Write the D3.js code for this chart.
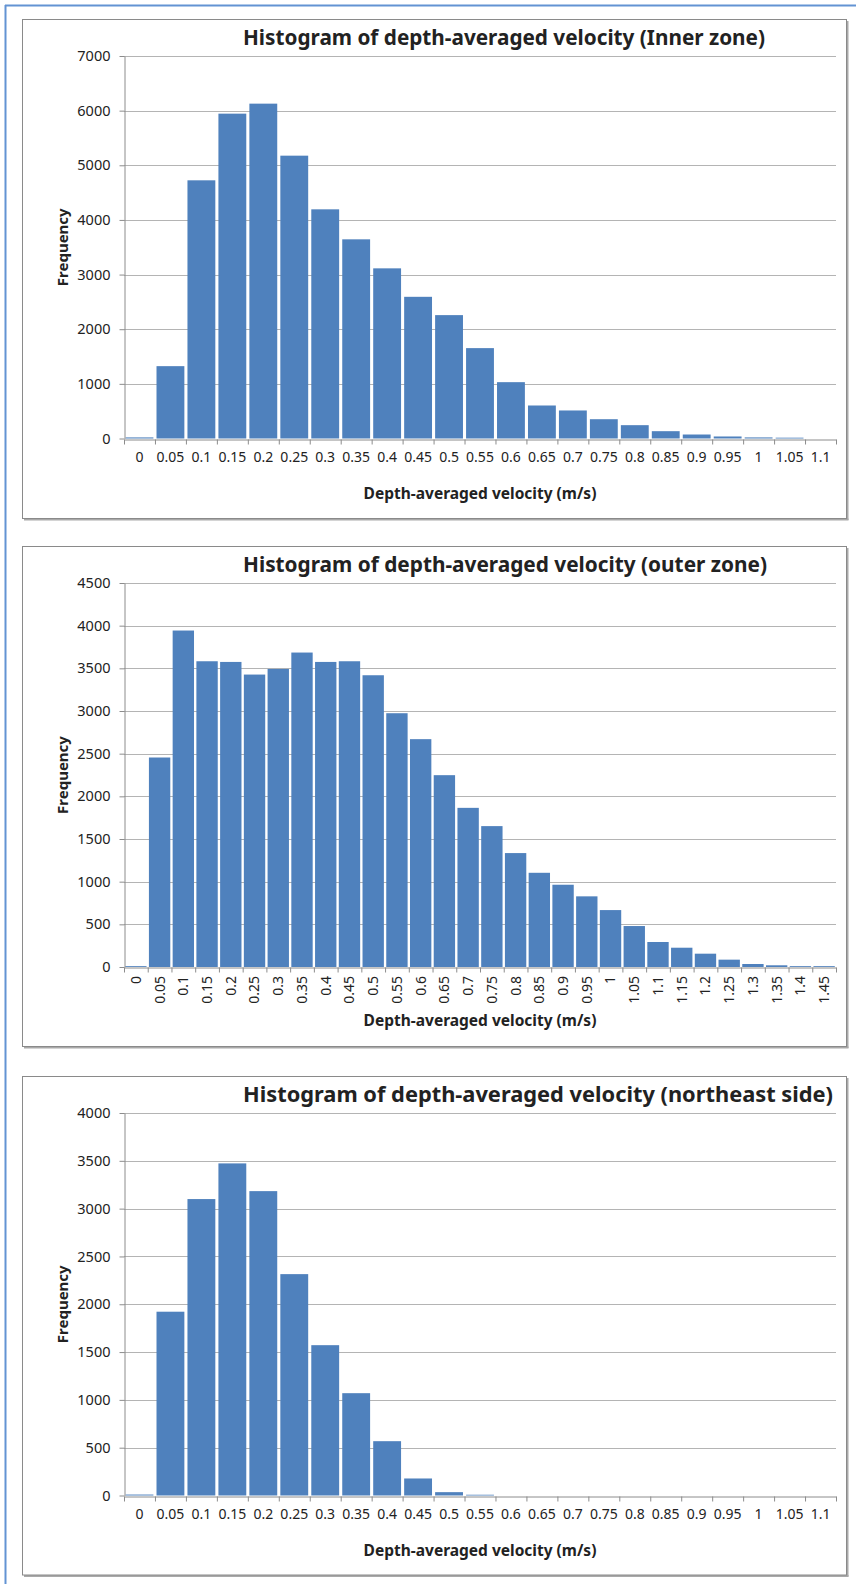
<!DOCTYPE html>
<html>
<head>
<meta charset="utf-8">
<script src="https://cdn.jsdelivr.net/npm/d3@7/dist/d3.min.js"></script>
<style>
body { margin: 0; background: #fff; }
svg { display: block; }
text { font-family: "Noto Sans", sans-serif; fill: #222; }
</style>
</head>
<body>
<div id="figure-div"></div>
<script>
// categories (bin labels)
var catsShort = ["0", "0.05", "0.1", "0.15", "0.2", "0.25", "0.3", "0.35", "0.4", "0.45", "0.5", "0.55",
	"0.6", "0.65", "0.7", "0.75", "0.8", "0.85", "0.9", "0.95", "1", "1.05", "1.1"];
var catsLong = ["0", "0.05", "0.1", "0.15", "0.2", "0.25", "0.3", "0.35", "0.4", "0.45", "0.5", "0.55",
	"0.6", "0.65", "0.7", "0.75", "0.8", "0.85", "0.9", "0.95", "1", "1.05", "1.1", "1.15", "1.2",
	"1.25", "1.3", "1.35", "1.4", "1.45"];

// frequencies
var innerValues = [20, 1324, 4725, 5945, 6128, 5176, 4194, 3645, 3114, 2593, 2258, 1654,
	1031, 604, 513, 353, 244, 134, 73, 37, 20, 15, 0];
var outerValues = [10, 2455, 3943, 3583, 3575, 3427, 3493, 3685, 3575, 3583, 3419, 2974,
	2670, 2248, 1865, 1651, 1335, 1104, 964, 828, 667, 480, 293, 226, 156, 86, 35, 20, 10, 10];
var northeastValues = [10, 1922, 3100, 3473, 3183, 2315, 1572, 1070, 568, 178, 35, 8,
	0, 0, 0, 0, 0, 0, 0, 0, 0, 0, 0];

// y tick values
var innerTicks = [0, 1000, 2000, 3000, 4000, 5000, 6000, 7000];
var outerTicks = [0, 500, 1000, 1500, 2000, 2500, 3000, 3500, 4000, 4500];
var northeastTicks = [0, 500, 1000, 1500, 2000, 2500, 3000, 3500, 4000];

var titles = ["Histogram of depth-averaged velocity (Inner zone)",
	"Histogram of depth-averaged velocity (outer zone)",
	"Histogram of depth-averaged velocity (northeast side)"];
var xTitle = "Depth-averaged velocity (m/s)";
var yTitle = "Frequency";

var W = 856, H = 1584;
var barColor = "#4f81bd";
var gridColor = "#b4b4b4";
var axisColor = "#8c8c8c";

var svg = d3.select("#figure-div").append("svg")
	.attr("width", W)
	.attr("height", H);

// outer blue frame
svg.append("line").attr("x1", 5.5).attr("x2", 5.5).attr("y1", 5).attr("y2", H)
	.attr("stroke", "#6393d3").attr("stroke-width", 2);
svg.append("line").attr("x1", 5).attr("x2", W).attr("y1", 5.5).attr("y2", 5.5)
	.attr("stroke", "#6393d3").attr("stroke-width", 2);

function drawChart(top, boxH, cats, values, ticks, title, titleW, rotated) {
	var left = 22, right = 846;
	var plotL = 124, plotR = 836;
	var plotT = top + 37, plotB = top + (rotated ? 421 : 419.5);

	var g = svg.append("g");

	// chart box with shadow
	g.append("line").attr("x1", right + 1.5).attr("x2", right + 1.5)
		.attr("y1", top + 2).attr("y2", top + boxH + 2)
		.attr("stroke", "#a9a9a9").attr("stroke-width", 2);
	g.append("line").attr("x1", left + 2).attr("x2", right + 2.5)
		.attr("y1", top + boxH + 1.5).attr("y2", top + boxH + 1.5)
		.attr("stroke", "#a9a9a9").attr("stroke-width", 2);
	g.append("rect")
		.attr("x", left + 0.5).attr("y", top + 0.5)
		.attr("width", right - left).attr("height", boxH)
		.attr("fill", "#fff").attr("stroke", "#8a8a8a");

	var x = d3.scaleBand()
		.domain(cats)
		.range([plotL, plotR])
		.paddingInner(0.1)
		.paddingOuter(0.05);
	var xEdge = d3.scaleLinear()
		.domain([0, cats.length])
		.range([plotL, plotR]);
	var y = d3.scaleLinear()
		.domain([0, d3.max(ticks)])
		.range([plotB, plotT]);

	// gridlines
	g.append("g").selectAll("line")
		.data(ticks.slice(1))
		.enter().append("line")
		.attr("x1", plotL).attr("x2", plotR)
		.attr("y1", function(d) { return Math.round(y(d)) + 0.5; })
		.attr("y2", function(d) { return Math.round(y(d)) + 0.5; })
		.attr("stroke", gridColor);

	// bars
	g.append("g").selectAll("rect")
		.data(values)
		.enter().append("rect")
		.attr("x", function(d, i) { return x(cats[i]); })
		.attr("width", x.bandwidth())
		.attr("y", function(d) { return y(d); })
		.attr("height", function(d) { return plotB - y(d); })
		.attr("fill", barColor);

	// y axis
	var yAxis = g.append("g")
		.attr("transform", "translate(" + (plotL + 0.5) + ",0)")
		.call(d3.axisLeft(y).tickValues(ticks).tickFormat(d3.format("d"))
			.tickSize(5).tickPadding(9).tickSizeOuter(0));
	yAxis.select(".domain").attr("stroke", axisColor);
	yAxis.selectAll(".tick line").attr("stroke", axisColor);
	yAxis.selectAll("text").style("font-size", "14.5px").attr("fill", "#222").style("font-family", "Noto Sans");

	// x axis: tick marks at bin edges
	var xTickAxis = g.append("g")
		.attr("transform", "translate(0," + (Math.round(plotB) + 0.5) + ")")
		.call(d3.axisBottom(xEdge).tickValues(d3.range(cats.length + 1)).tickSize(5).tickSizeOuter(0).tickFormat(""));
	xTickAxis.select(".domain").attr("stroke", axisColor);
	xTickAxis.selectAll(".tick line").attr("stroke", axisColor);

	// x axis: labels at bin centres
	var xLab = g.append("g")
		.attr("transform", "translate(0," + plotB + ")")
		.call(d3.axisBottom(x).tickSize(0).tickPadding(14));
	xLab.select(".domain").remove();
	xLab.selectAll("text").style("font-size", "14px").attr("fill", "#222").style("font-family", "Noto Sans");
	if (rotated) {
		xLab.selectAll("text")
			.attr("transform", "rotate(-90)")
			.attr("text-anchor", "end")
			.attr("x", -9)
			.attr("y", 0)
			.attr("dy", "0.35em");
	}

	// titles
	g.append("text")
		.attr("x", 243)
		.attr("y", top + 25.5)
		.attr("textLength", titleW)
		.attr("lengthAdjust", "spacingAndGlyphs")
		.style("font-size", "21px")
		.style("font-weight", "bold")
		.attr("fill", "#000")
		.text(title);

	g.append("text")
		.attr("x", (plotL + plotR) / 2)
		.attr("y", top + 480)
		.attr("text-anchor", "middle")
		.style("font-size", "15.5px")
		.style("font-weight", "bold")
		.attr("fill", "#000")
		.text(xTitle);

	g.append("text")
		.attr("transform", "translate(68," + ((plotT + plotB) / 2) + ") rotate(-90)")
		.attr("text-anchor", "middle")
		.style("font-size", "15px")
		.style("font-weight", "bold")
		.attr("fill", "#000")
		.text(yTitle);
}

drawChart(19, 499, catsShort, innerValues, innerTicks, titles[0], 522, false);
drawChart(546, 500, catsLong, outerValues, outerTicks, titles[1], 524, true);
drawChart(1076, 498.5, catsShort, northeastValues, northeastTicks, titles[2], 590, false);
</script>
</body>
</html>
